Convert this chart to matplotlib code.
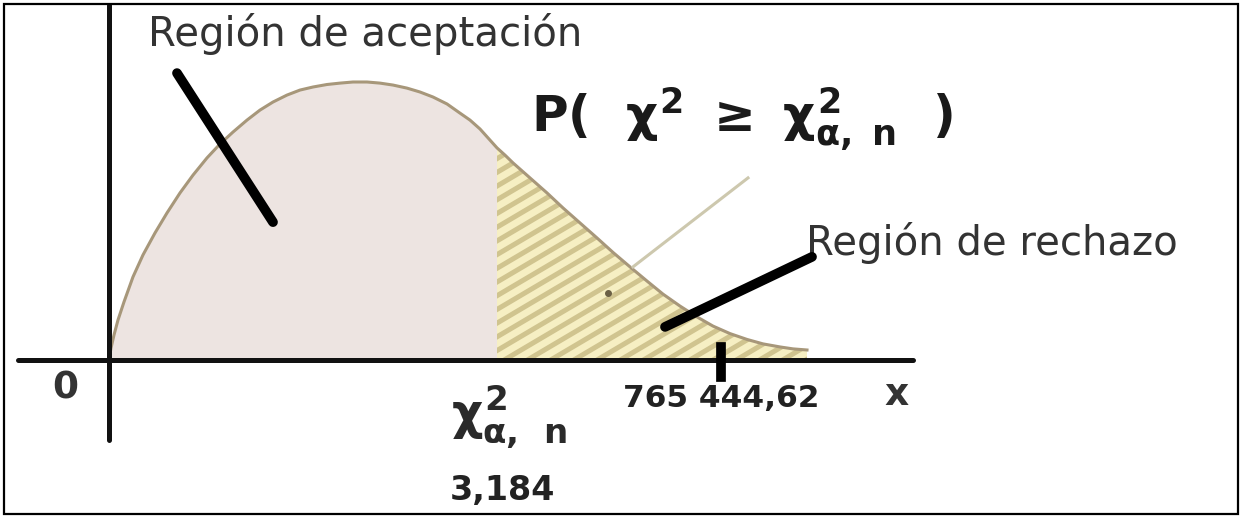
import numpy as np
import matplotlib.pyplot as plt
from matplotlib.patches import Rectangle, Polygon

plt.rcParams['font.family'] = 'DejaVu Sans'
plt.rcParams['mathtext.fontset'] = 'custom'
plt.rcParams['mathtext.rm'] = 'DejaVu Sans:bold'
plt.rcParams['mathtext.it'] = 'DejaVu Sans:bold'
plt.rcParams['mathtext.bf'] = 'DejaVu Sans:bold'

#---------------------------------------------------------- density curve
x_curve = [0.0, 0.05, 0.125, 0.225, 0.375, 0.6, 0.85, 1.15, 1.45, 1.775, 2.1,
           2.45, 2.775, 3.1, 3.45, 3.775, 4.1, 4.45, 4.775, 5.1, 5.45, 5.775,
           6.1, 6.45, 6.775, 7.1, 7.45, 7.775, 8.1, 8.45, 8.775, 9.025, 9.275,
           9.525, 9.7, 9.9, 10.1, 10.525, 10.95, 11.35, 11.775, 12.2, 12.6,
           13.025, 13.45, 13.85, 14.275, 14.7, 15.1, 15.525, 15.95, 16.35,
           16.775, 17.1, 17.45]
y_curve = [0.0, 0.0043, 0.0090, 0.0144, 0.0209, 0.0299, 0.0378, 0.0457, 0.0529,
           0.0601, 0.0665, 0.0727, 0.0777, 0.0820, 0.0863, 0.0899, 0.0928,
           0.0953, 0.0971, 0.0982, 0.0991, 0.0996, 0.1000, 0.1000, 0.0996,
           0.0989, 0.0978, 0.0964, 0.0946, 0.0921, 0.0888, 0.0863, 0.0831,
           0.0791, 0.0763, 0.0737, 0.0709, 0.0655, 0.0601, 0.0547, 0.0493,
           0.0439, 0.0387, 0.0335, 0.0284, 0.0237, 0.0194, 0.0155, 0.0122,
           0.0095, 0.0074, 0.0058, 0.0047, 0.0040, 0.0036]

x_crit = 9.7        # chi^2_{alpha,n}
x_stat = 15.3       # observed statistic
crit_label = "3,184"
stat_label = "765 444,62"
accept_label = "Región de aceptación"
reject_label = "Región de rechazo"

x_curve = np.array(x_curve)
y_curve = np.array(y_curve)
i_crit = int(np.where(x_curve == x_crit)[0][0])

#---------------------------------------------------------- figure
fig = plt.figure(figsize=(12.41, 5.17), dpi=100)
ax = fig.add_axes([0, 0, 1, 1])
ax.set_xlim(-109 / 40, (1241 - 109) / 40)
ax.set_ylim(-(517 - 360) / 2780, 360 / 2780)
ax.axis('off')

# acceptance area
ax.fill_between(x_curve[:i_crit + 1], y_curve[:i_crit + 1], 0,
                color="#ede4e1", lw=0, zorder=1)

# rejection area: pale yellow with slanted stripes
xr = x_curve[i_crit:]
yr = y_curve[i_crit:]
verts = np.column_stack([np.r_[xr, xr[-1], xr[0]], np.r_[yr, 0, 0]])
rej = Polygon(verts, closed=True, facecolor="#f6efc3", edgecolor="none", zorder=1)
ax.add_patch(rej)
slope = 0.0085
xs = np.array([x_crit - 1, 18.5])
for c in np.arange(x_crit - 12, 18.5, 0.58):
    ln, = ax.plot(xs, slope * (xs - c), color="#d0c48f", lw=3.6, zorder=2,
                  solid_capstyle="butt")
    ln.set_clip_path(rej)

# curve outline
ax.plot(x_curve, y_curve, color="#a7977a", lw=2.2, zorder=3,
        solid_joinstyle="round")

# axes
ax.plot([-2.275, 20.1], [0, 0], color="#111111", lw=3.6, zorder=4,
        solid_capstyle="round")
ax.plot([0, 0], [0.1277, -0.0288], color="#111111", lw=3.6, zorder=4,
        solid_capstyle="round")

# pointer strokes
ax.plot([1.7, 4.1], [0.1032, 0.0496], color="black", lw=7, zorder=5,
        solid_capstyle="round")
ax.plot([13.9, 17.575], [0.0119, 0.0371], color="black", lw=7, zorder=5,
        solid_capstyle="round")
ax.plot([x_stat, x_stat], [0.0045, -0.0060], color="black", lw=7, zorder=5)
ax.plot([13.1, 15.975], [0.0335, 0.0655], color="#cdc8ae", lw=2.2, zorder=3)
ax.plot([12.475], [0.0241], "o", color="#6b6045", ms=4, zorder=3)

# labels
ax.text(0.975, 0.1173, accept_label, fontsize=29, color="#333333",
        ha="left", va="center")
ax.text(17.425, 0.0421, reject_label, fontsize=29, color="#333333",
        ha="left", va="center")
ax.text(10.55, 0.0865,
        r"$\mathrm{P(}\ \ \chi^{2}\ \geq\ \chi^{2}_{\alpha,\,\,n}\ \ \mathrm{)}$",
        fontsize=36, color="#1a1a1a", ha="left", va="center")
ax.text(8.55, -0.0205, r"$\chi^{2}_{\alpha,\,\,\,n}$", fontsize=35, color="#2a2a2a",
        ha="left", va="center")
ax.text(9.825, -0.0468, crit_label, fontsize=24, fontweight="bold",
        color="#222222", ha="center", va="center")
ax.text(x_stat, -0.0137, stat_label, fontsize=22.5, fontweight="bold",
        color="#222222", ha="center", va="center")
ax.text(19.7, -0.0126, "x", fontsize=27, fontweight="bold", color="#333333",
        ha="center", va="center")
ax.text(-1.1, -0.0104, "0", fontsize=27, fontweight="bold", color="#333333",
        ha="center", va="center")

# frame round the picture
fig.patches.append(Rectangle((4 / 1241, 3 / 517), 1234 / 1241, 510 / 517,
                             transform=fig.transFigure, fill=False,
                             edgecolor="black", lw=1.6))

fig.savefig("out.png", dpi=100)
